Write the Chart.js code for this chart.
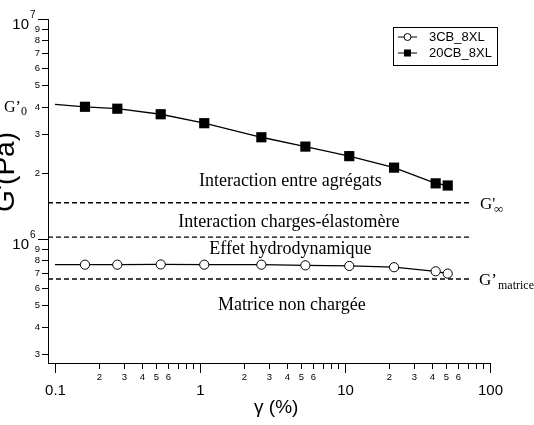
<!DOCTYPE html>
<html>
<head>
<meta charset="utf-8">
<script src="https://cdn.jsdelivr.net/npm/chart.js@4/dist/chart.umd.min.js"></script>
<style>
html,body{margin:0;padding:0;background:#fff;}
canvas{display:block;}
</style>
</head>
<body>
<canvas id="c" width="534" height="425"></canvas>
<script>
// ---- data ----
const strain = [0.1, 0.161, 0.269, 0.536, 1.07, 2.65, 5.33, 10.7, 21.8, 42.2, 51.1];
const g20CB = [4.09e6, 3.99e6, 3.91e6, 3.69e6, 3.36e6, 2.90e6, 2.63e6, 2.38e6, 2.11e6, 1.79e6, 1.75e6];
const g3CB  = [7.64e5, 7.64e5, 7.64e5, 7.66e5, 7.64e5, 7.64e5, 7.59e5, 7.54e5, 7.44e5, 7.13e5, 6.96e5];
const seriesNames = ['3CB_8XL', '20CB_8XL'];
const levelValues = [1.46e6, 1.02e6, 6.58e5];
const levelEnd = 74;
const xMin = 0.0895, xMax = 100;
const yMin = 2.73e5, yMax = 1e7;
const xTickValues = [0.1,0.2,0.3,0.4,0.5,0.6,0.7,0.8,0.9,1,2,3,4,5,6,7,8,9,10,20,30,40,50,60,70,80,90,100];
const xMajorLabels = {0.1:'0.1', 1:'1', 10:'10', 100:'100'};
const xMinorLabeled = [2,3,4,5,6];
const yTickValues = [3e5,4e5,5e5,6e5,7e5,8e5,9e5,1e6,2e6,3e6,4e6,5e6,6e6,7e6,8e6,9e6,1e7];
const yMajorExp = {1e6:'6', 1e7:'7'};
const regionLabels = ['Interaction entre agrégats','Interaction charges-élastomère','Effet hydrodynamique','Matrice non chargée'];
const regionValues = [1.83e6, 1.19e6, 9.0e5, 5.0e5];
const regionCenterX = [4.2, 4.1, 4.2, 4.3];
const xTitle = 'γ (%)';
const yTitle = "G'(Pa)";

const pts = (xs, ys) => xs.map((x, i) => ({x, y: ys[i]}));
const isMajor = v => Math.abs(Math.log10(v) - Math.round(Math.log10(v))) < 1e-9;
const leading = v => Math.round(v / Math.pow(10, Math.floor(Math.log10(v) + 1e-9)));

const levelDatasets = levelValues.map(v => ({
  data: [{x: xMin, y: v}, {x: levelEnd, y: v}],
  borderColor: '#000', borderWidth: 1.4, borderDash: [5, 3],
  pointRadius: 0, showLine: true, fill: false
}));

const overlay = {
  id: 'overlay',
  afterDraw(chart) {
    const ctx = chart.ctx, xs = chart.scales.x, ys = chart.scales.y;
    const a = chart.chartArea;
    ctx.save();
    ctx.strokeStyle = '#000'; ctx.fillStyle = '#000'; ctx.lineWidth = 1;
    // x ticks
    xTickValues.forEach(v => {
      const px = Math.round(xs.getPixelForValue(v)) + 0.5;
      const maj = isMajor(v);
      ctx.beginPath(); ctx.moveTo(px, a.bottom); ctx.lineTo(px, a.bottom + (maj ? 10 : 6)); ctx.stroke();
      ctx.textAlign = 'center'; ctx.textBaseline = 'middle';
      if (maj) {
        const key = Object.keys(xMajorLabels).find(k => Math.abs(+k - v) < 1e-9);
        ctx.font = '15px "Liberation Sans", Arial, sans-serif';
        ctx.fillText(xMajorLabels[key], px, a.bottom + 28);
      } else if (xMinorLabeled.includes(leading(v))) {
        ctx.font = '9.5px "Liberation Sans", Arial, sans-serif';
        ctx.fillText(String(leading(v)), px, a.bottom + 14);
      }
    });
    // y ticks
    yTickValues.forEach(v => {
      const py = Math.round(ys.getPixelForValue(v)) + 0.5;
      const maj = isMajor(v);
      ctx.beginPath(); ctx.moveTo(a.left, py); ctx.lineTo(a.left - (maj ? 10 : 6), py); ctx.stroke();
      if (maj) {
        const key = Object.keys(yMajorExp).find(k => Math.abs(+k / v - 1) < 1e-9);
        ctx.textAlign = 'right'; ctx.textBaseline = 'alphabetic';
        ctx.font = '15px "Liberation Sans", Arial, sans-serif';
        ctx.fillText('10', a.left - 19, py + 9);
        ctx.textAlign = 'left';
        ctx.font = '10px "Liberation Sans", Arial, sans-serif';
        ctx.fillText(yMajorExp[key], a.left - 18, py - 2);
      } else {
        ctx.textAlign = 'right'; ctx.textBaseline = 'middle';
        ctx.font = '9.5px "Liberation Sans", Arial, sans-serif';
        ctx.fillText(String(leading(v)), a.left - 8, py);
      }
    });
    // axis titles
    ctx.font = '19px "Liberation Sans", Arial, sans-serif';
    ctx.textAlign = 'center'; ctx.textBaseline = 'middle';
    ctx.fillText(xTitle, (xs.getPixelForValue(3) + xs.getPixelForValue(4)) / 2 - 2, a.bottom + 45);
    ctx.save();
    ctx.translate(14, 172); ctx.rotate(-Math.PI / 2);
    ctx.font = '28px "Liberation Sans", Arial, sans-serif';
    ctx.textAlign = 'center';
    ctx.textBaseline = 'alphabetic';
    ctx.fillText(yTitle, 0, 0);
    ctx.restore();
    // region labels
    ctx.font = '18px "Liberation Serif", "Times New Roman", serif';
    ctx.textAlign = 'center'; ctx.textBaseline = 'middle';
    regionLabels.forEach((t, i) => {
      ctx.fillText(t, xs.getPixelForValue(regionCenterX[i]), ys.getPixelForValue(regionValues[i]));
    });
    // G' labels
    const serif = s => s + 'px "Liberation Serif", "Times New Roman", serif';
    ctx.textAlign = 'left'; ctx.textBaseline = 'alphabetic';
    let y0 = ys.getPixelForValue(4.0e6) + 5;
    ctx.font = serif(16); ctx.fillText("G\u2019", 4, y0);
    ctx.font = serif(12); ctx.fillText('0', 21, y0 + 3);
    let yInf = ys.getPixelForValue(levelValues[0]) + 6;
    ctx.font = serif(17); ctx.fillText("G'", 480, yInf);
    ctx.font = serif(13); ctx.fillText('\u221E', 494, yInf + 4);
    let yMat = ys.getPixelForValue(levelValues[2]) + 6;
    ctx.font = serif(17); ctx.fillText("G\u2019", 479, yMat);
    ctx.font = serif(12); ctx.fillText('matrice', 498, yMat + 4);
    // legend
    ctx.lineWidth = 1; ctx.strokeStyle = '#000';
    ctx.strokeRect(393.5, 27.5, 104, 38);
    ctx.font = '13px "Liberation Sans", Arial, sans-serif';
    ctx.textBaseline = 'middle'; ctx.textAlign = 'left';
    [[37, 'circle'], [53, 'rect']].forEach(([ly, shape], i) => {
      ctx.beginPath(); ctx.moveTo(398, ly); ctx.lineTo(417, ly); ctx.stroke();
      if (shape === 'circle') {
        ctx.beginPath(); ctx.arc(407.5, ly, 3.5, 0, Math.PI * 2);
        ctx.fillStyle = '#fff'; ctx.fill(); ctx.stroke(); ctx.fillStyle = '#000';
      } else {
        ctx.fillRect(404, ly - 3.5, 7, 7);
      }
      ctx.fillText(seriesNames[i], 429, ly + 0.5);
    });
    ctx.restore();
  }
};

new Chart(document.getElementById('c'), {
  type: 'scatter',
  data: {
    datasets: [
      {
        label: seriesNames[0], data: pts(strain, g3CB), showLine: true,
        borderColor: '#000', borderWidth: 1.3, backgroundColor: '#fff',
        pointStyle: 'circle', pointRadius: c => c.dataIndex === 0 ? 0 : 4.6,
        pointBorderWidth: 1, pointBorderColor: '#000', pointBackgroundColor: '#fff'
      },
      {
        label: seriesNames[1], data: pts(strain, g20CB), showLine: true,
        borderColor: '#000', borderWidth: 1.3, backgroundColor: '#000',
        pointStyle: 'rect', pointRadius: c => c.dataIndex === 0 ? 0 : 7.2,
        pointBorderWidth: 0, pointBackgroundColor: '#000'
      },
      ...levelDatasets
    ]
  },
  options: {
    responsive: false, animation: false, devicePixelRatio: 1,
    layout: {padding: {left: 0, right: 44, top: 19, bottom: 0}},
    plugins: {legend: {display: false}, tooltip: {enabled: false}},
    scales: {
      x: {
        type: 'logarithmic', min: xMin, max: xMax,
        ticks: {display: false}, grid: {display: false, drawTicks: false},
        border: {display: true, color: '#000', width: 1},
        afterFit: s => { s.height = 62; }
      },
      y: {
        type: 'logarithmic', min: yMin, max: yMax,
        ticks: {display: false}, grid: {display: false, drawTicks: false},
        border: {display: true, color: '#000', width: 1},
        afterFit: s => { s.width = 48; }
      }
    }
  },
  plugins: [overlay]
});
</script>
</body>
</html>
